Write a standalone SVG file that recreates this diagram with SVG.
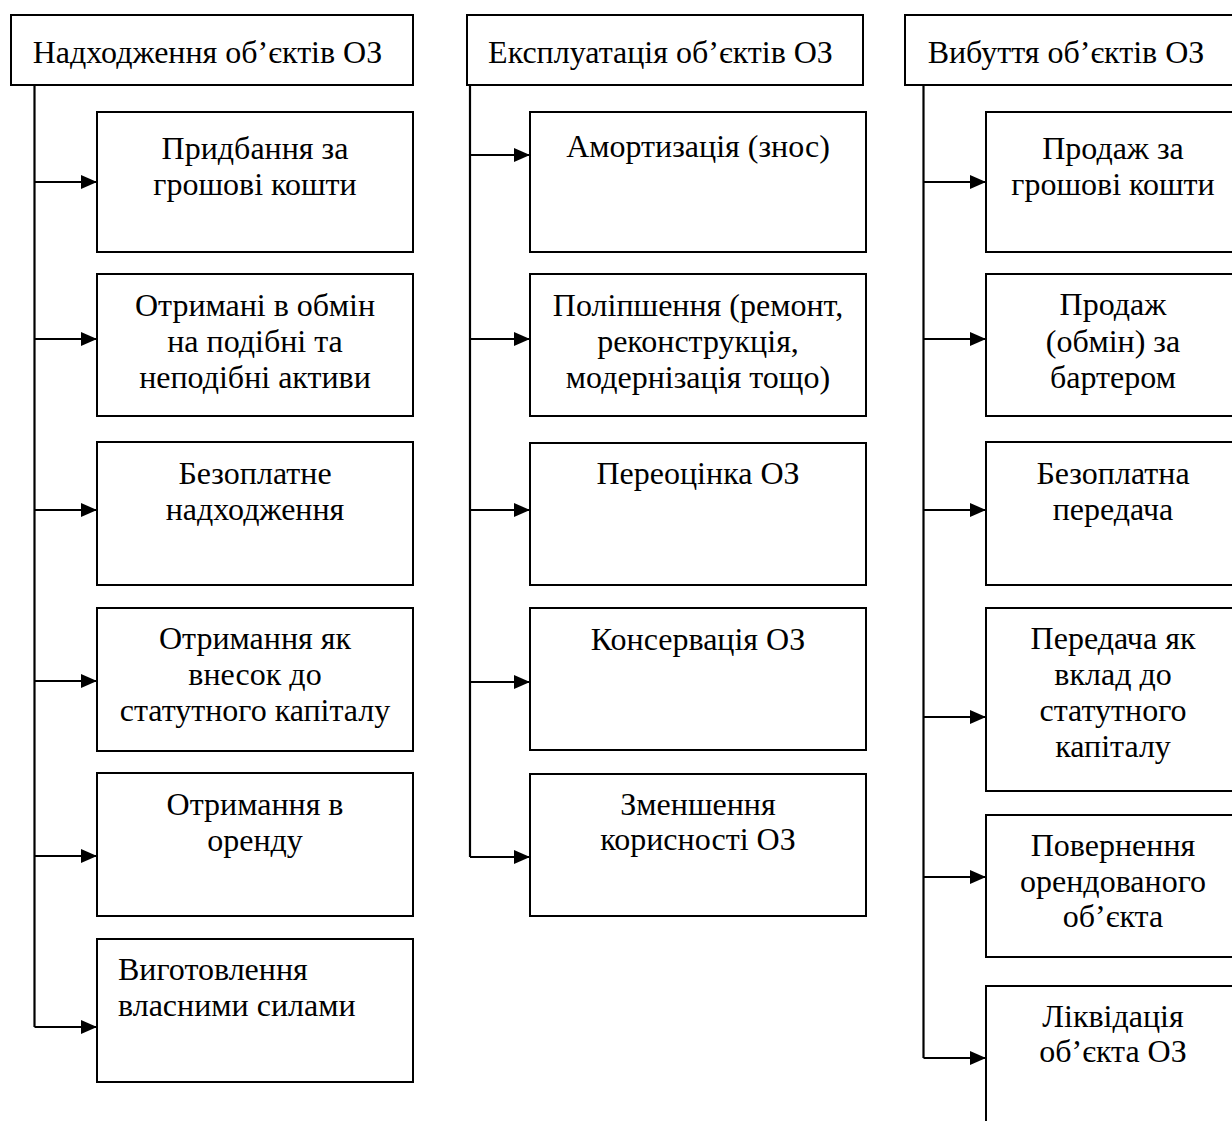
<svg xmlns="http://www.w3.org/2000/svg" width="1232" height="1121" viewBox="0 0 1232 1121">
<style>
.box{fill:#fff;stroke:#000;stroke-width:2}
.t{font-family:"Liberation Serif","Times New Roman",serif;font-size:32px;fill:#000;text-anchor:middle}
.tl{text-anchor:start}
.c{fill:none;stroke:#000;stroke-width:2.2}
</style>
<defs>
<marker id="ah" viewBox="0 0 16 14" refX="16" refY="7" markerWidth="16" markerHeight="14" markerUnits="userSpaceOnUse" orient="auto"><path d="M0,0 L16,7 L0,14 z" fill="#000"/></marker>
</defs>
<rect width="1232" height="1121" fill="#fff"/>
<g id="connectors">
<path class="c" d="M34.5,85 V1027"/>
<path class="c" d="M470,85 V857"/>
<path class="c" d="M923.5,85 V1058"/>
<path class="c" d="M34.5,182 H97" marker-end="url(#ah)"/>
<path class="c" d="M34.5,339 H97" marker-end="url(#ah)"/>
<path class="c" d="M34.5,510 H97" marker-end="url(#ah)"/>
<path class="c" d="M34.5,681 H97" marker-end="url(#ah)"/>
<path class="c" d="M34.5,856 H97" marker-end="url(#ah)"/>
<path class="c" d="M34.5,1027 H97" marker-end="url(#ah)"/>
<path class="c" d="M470,155 H530" marker-end="url(#ah)"/>
<path class="c" d="M470,339 H530" marker-end="url(#ah)"/>
<path class="c" d="M470,510 H530" marker-end="url(#ah)"/>
<path class="c" d="M470,682 H530" marker-end="url(#ah)"/>
<path class="c" d="M470,857 H530" marker-end="url(#ah)"/>
<path class="c" d="M923.5,182 H986" marker-end="url(#ah)"/>
<path class="c" d="M923.5,339 H986" marker-end="url(#ah)"/>
<path class="c" d="M923.5,510 H986" marker-end="url(#ah)"/>
<path class="c" d="M923.5,717 H986" marker-end="url(#ah)"/>
<path class="c" d="M923.5,877 H986" marker-end="url(#ah)"/>
<path class="c" d="M923.5,1058 H986" marker-end="url(#ah)"/>
</g>
<g id="h1"><rect class="box" x="11" y="15" width="402" height="70"/><text class="t" x="207.5" y="63">Надходження об’єктів ОЗ</text></g>
<g id="h2"><rect class="box" x="467" y="15" width="396" height="70"/><text class="t" x="660.5" y="63">Експлуатація об’єктів ОЗ</text></g>
<g id="h3"><rect class="box" x="905" y="15" width="340" height="70"/><text class="t" x="1066" y="63">Вибуття об’єктів ОЗ</text></g>

<g id="a1"><rect class="box" x="97" y="112" width="316" height="140"/><text class="t" x="255" y="159">Придбання за</text><text class="t" x="255" y="195">грошові кошти</text></g>
<g id="a2"><rect class="box" x="97" y="274" width="316" height="142"/><text class="t" x="255" y="316">Отримані в обмін</text><text class="t" x="255" y="352">на подібні та</text><text class="t" x="255" y="388">неподібні активи</text></g>
<g id="a3"><rect class="box" x="97" y="442" width="316" height="143"/><text class="t" x="255" y="484">Безоплатне</text><text class="t" x="255" y="520">надходження</text></g>
<g id="a4"><rect class="box" x="97" y="608" width="316" height="143"/><text class="t" x="255" y="649">Отримання як</text><text class="t" x="255" y="685">внесок до</text><text class="t" x="255" y="721">статутного капіталу</text></g>
<g id="a5"><rect class="box" x="97" y="773" width="316" height="143"/><text class="t" x="255" y="815">Отримання в</text><text class="t" x="255" y="851">оренду</text></g>
<g id="a6"><rect class="box" x="97" y="939" width="316" height="143"/><text class="t tl" x="118" y="980">Виготовлення</text><text class="t tl" x="118" y="1016">власними силами</text></g>

<g id="b1"><rect class="box" x="530" y="112" width="336" height="140"/><text class="t" x="698" y="157">Амортизація (знос)</text></g>
<g id="b2"><rect class="box" x="530" y="274" width="336" height="142"/><text class="t" x="698" y="316">Поліпшення (ремонт,</text><text class="t" x="698" y="352">реконструкція,</text><text class="t" x="698" y="388">модернізація тощо)</text></g>
<g id="b3"><rect class="box" x="530" y="443" width="336" height="142"/><text class="t" x="698" y="484">Переоцінка ОЗ</text></g>
<g id="b4"><rect class="box" x="530" y="608" width="336" height="142"/><text class="t" x="698" y="650">Консервація ОЗ</text></g>
<g id="b5"><rect class="box" x="530" y="774" width="336" height="142"/><text class="t" x="698" y="815">Зменшення</text><text class="t" x="698" y="850">корисності ОЗ</text></g>

<g id="c1"><rect class="box" x="986" y="112" width="260" height="140"/><text class="t" x="1113" y="159">Продаж за</text><text class="t" x="1113" y="195">грошові кошти</text></g>
<g id="c2"><rect class="box" x="986" y="274" width="260" height="142"/><text class="t" x="1113" y="315">Продаж</text><text class="t" x="1113" y="352">(обмін) за</text><text class="t" x="1113" y="388">бартером</text></g>
<g id="c3"><rect class="box" x="986" y="442" width="260" height="143"/><text class="t" x="1113" y="484">Безоплатна</text><text class="t" x="1113" y="520">передача</text></g>
<g id="c4"><rect class="box" x="986" y="608" width="260" height="183"/><text class="t" x="1113" y="649">Передача як</text><text class="t" x="1113" y="685">вклад до</text><text class="t" x="1113" y="721">статутного</text><text class="t" x="1113" y="757">капіталу</text></g>
<g id="c5"><rect class="box" x="986" y="815" width="260" height="142"/><text class="t" x="1113" y="856">Повернення</text><text class="t" x="1113" y="892">орендованого</text><text class="t" x="1113" y="927">об’єкта</text></g>
<g id="c6"><rect class="box" x="986" y="986" width="260" height="160"/><text class="t" x="1113" y="1027">Ліквідація</text><text class="t" x="1113" y="1062">об’єкта ОЗ</text></g>
</svg>
